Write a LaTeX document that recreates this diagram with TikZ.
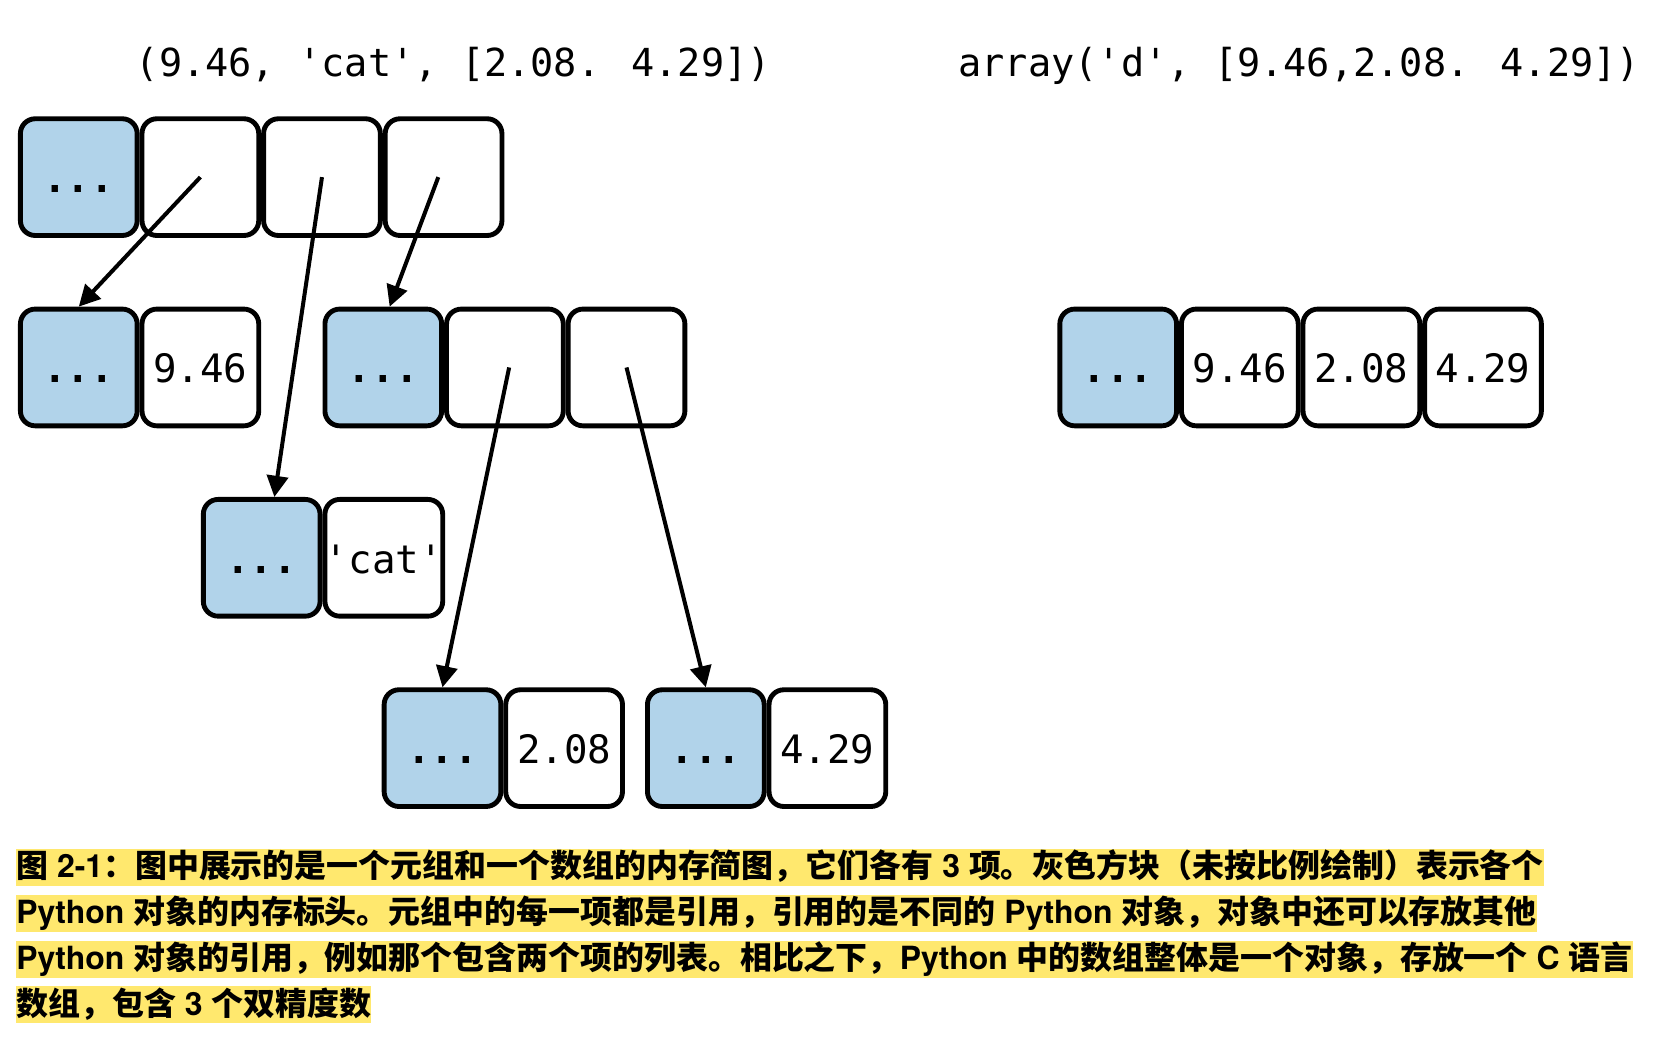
\documentclass[tikz,border=0pt]{standalone}
\usepackage{fontspec}
\usetikzlibrary{arrows.meta,positioning}

\newfontfamily\codefont[Ligatures=TeXOff]{DejaVu Sans Mono}
\newfontfamily\capfont[Extension=.otf,UprightFont=texgyreheros-bold,
  BoldFont=texgyreheros-bold]{texgyreheros}
\newfontfamily\cjk{Noto Sans CJK SC}
\newcommand\zh[1]{{\cjk #1}}
\definecolor{hdrblue}{RGB}{177,211,234}
\definecolor{markyellow}{RGB}{255,232,110}

\begin{document}
\begin{tikzpicture}[
  x=0.5pt, y=-0.5pt,
  cell/.style={draw,line width=2.3pt,rounded corners=7pt,minimum width=55.2pt,
               minimum height=55.2pt,inner sep=0pt,text height=16pt,text depth=1.5pt,
               font=\codefont\fontsize{18.5}{20}\selectfont},
  hdr/.style={cell,fill=hdrblue,font=\codefont\bfseries\fontsize{18.5}{20}\selectfont},
  ref/.style={line width=1.9pt,-{Triangle[length=10pt,width=10pt]}},
  code/.style={font=\codefont\fontsize{18.25}{20}\selectfont,inner sep=0pt,
               anchor=base west},
  capline/.style={fill=markyellow,inner xsep=0pt,inner ysep=0.5pt,text height=13pt,
                  text depth=3.5pt,font=\capfont\bfseries\fontsize{15.1}{18}\selectfont},
]
  \useasboundingbox (0,0) rectangle (1568,982);

  % Source expressions
  \node[code] (tupsrc) at (128,72) {(9.46, 'cat', [2.08. 4.29])};
  \node[code] (arrsrc) at (906,72) {array('d', [9.46,2.08. 4.29])};

  % Tuple
  \node[hdr] (t0) at (74.5,167.5) {...};
  \node[cell,right=0pt of t0] (t1) {};
  \node[cell,right=0pt of t1] (t2) {};
  \node[cell,right=0pt of t2] (t3) {};

  % Float 9.46
  \node[hdr] (f1h) at (74.5,347.5) {...};
  \node[cell,right=0pt of f1h] (f1v) {9.46};

  % List
  \node[hdr] (l0) at (362.5,347.5) {...};
  \node[cell,right=0pt of l0] (l1) {};
  \node[cell,right=0pt of l1] (l2) {};

  % Str
  \node[hdr] (s0) at (247.5,527.5) {...};
  \node[cell,right=0pt of s0] (s1) {'cat'};

  % Floats in the list
  \node[hdr] (f2h) at (418.5,707.5) {...};
  \node[cell,right=0pt of f2h] (f2v) {2.08};
  \node[hdr] (f3h) at (667.5,707.5) {...};
  \node[cell,right=0pt of f3h] (f3v) {4.29};

  % Array
  \node[hdr] (a0) at (1057.5,347.5) {...};
  \node[cell,right=0pt of a0] (a1) {9.46};
  \node[cell,right=0pt of a1] (a2) {2.08};
  \node[cell,right=0pt of a2] (a3) {4.29};

  % References
  \draw[ref] (t1.center) -- (f1h.north);
  \draw[ref] (t2.center) -- ([xshift=6pt]s0.north);
  \draw[ref] ([xshift=-2.5pt]t3.center) -- ([xshift=3pt]l0.north);
  \draw[ref] ([xshift=2pt]l1.center) -- (f2h.north);
  \draw[ref] (l2.center) -- (f3h.north);

  % Caption
  \node[capline,anchor=west] (cap1) at (15,820.5)
    {\zh{图} 2-1\zh{：图中展示的是一个元组和一个数组的内存简图，它们各有} 3 \zh{项。灰色方块（未按比例绘制）表示各个}};
  \node[capline,below=3.75pt of cap1.south west,anchor=north west] (cap2)
    {Python \zh{对象的内存标头。元组中的每一项都是引用，引用的是不同的} Python \zh{对象，对象中还可以存放其他}};
  \node[capline,below=3.75pt of cap2.south west,anchor=north west] (cap3)
    {Python \zh{对象的引用，例如那个包含两个项的列表。相比之下，}Python \zh{中的数组整体是一个对象，存放一个} C \zh{语言}};
  \node[capline,below=3.75pt of cap3.south west,anchor=north west] (cap4)
    {\zh{数组，包含} 3 \zh{个双精度数}};
\end{tikzpicture}
\end{document}
